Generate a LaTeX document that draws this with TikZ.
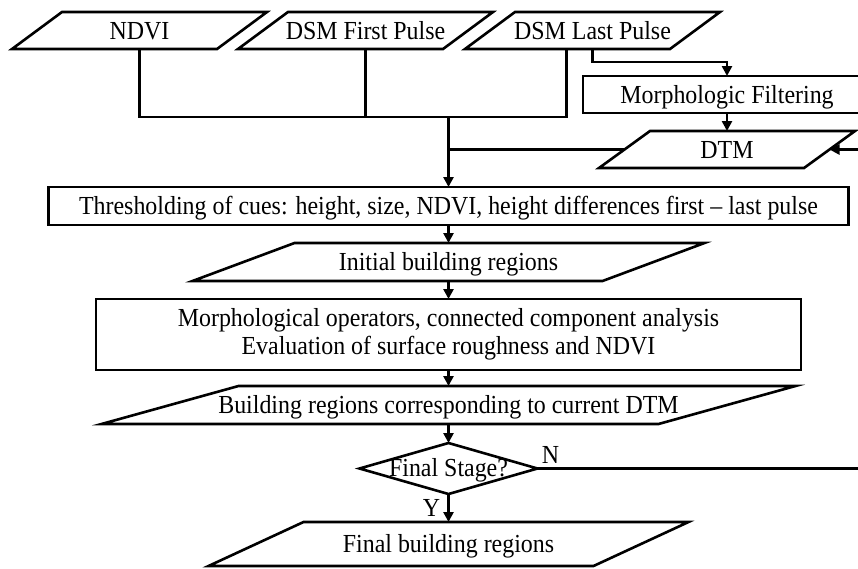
\documentclass[tikz,border=0pt]{standalone}
\usepackage{fontspec}
\setmainfont{Liberation Serif}[FakeStretch=0.92]
\usetikzlibrary{shapes.geometric,arrows.meta,positioning}

\tikzset{
  flow/.style={draw, line width=2.6pt, inner sep=0pt, outer sep=0pt, font=\fontsize{26}{28}\selectfont},
  oneline/.style={text height=18pt, text depth=1pt},
  procbox/.style={flow, oneline, rectangle},
  % parallelogram: top edge shifted right by the slant #1
  databox/.style={flow, oneline, rectangle, draw=none,
    append after command={\pgfextra{\draw[line width=2.6pt]
      ([xshift=#1]\tikzlastnode.north west) -- (\tikzlastnode.north east)
      -- ([xshift=-#1]\tikzlastnode.south east) -- (\tikzlastnode.south west) -- cycle;}}},
  decision/.style={flow, diamond, aspect=3.5, text height=16pt, text depth=0pt},
  line/.style={line width=2.6pt},
  arrow/.style={line, -{Triangle[length=10pt,width=10pt]}},
  tag/.style={oneline, font=\fontsize{26}{28}\selectfont, inner sep=3pt}
}

\begin{document}
\begin{tikzpicture}[x=1pt, y=-1pt]
\useasboundingbox (0,0) rectangle (858,568);

% inputs
\node[databox=50pt, minimum width=255pt, minimum height=37pt] (ndvi) at (139.5,30.5) {NDVI};
\node[databox=50pt, minimum width=255pt, minimum height=37pt] (first) at (365.5,30.5) {DSM First Pulse};
\node[databox=50pt, minimum width=255pt, minimum height=37pt] (last) at (592.5,30.5) {DSM Last Pulse};

% DTM branch
\node[procbox, minimum width=288pt, minimum height=37pt] (filter) at (727,94.5) {Morphologic Filtering};
\node[databox=51pt, minimum width=256pt, minimum height=37pt, below=18pt of filter] (dtm) {DTM};

% main column
\node[procbox, minimum width=800pt, minimum height=38pt] (thresh) at (448.5,206) {Thresholding of cues: height, size, NDVI, height differences first -- last pulse};
\node[databox=102pt, minimum width=512pt, minimum height=38pt, below=18pt of thresh] (init) {Initial building regions};
\node[flow, align=center, minimum width=705pt, minimum height=71pt, below=18pt of init] (ops) {Morphological operators, connected component analysis\\Evaluation of surface roughness and NDVI};
\node[databox=137pt, minimum width=694pt, minimum height=38pt, below=16pt of ops] (corr) {Building regions corresponding to current DTM};
\node[decision, minimum width=178pt, minimum height=51pt, below=19pt of corr] (stage) {Final Stage?};
\node[databox=95pt, minimum width=480pt, minimum height=44pt, below=28pt of stage] (final) {Final building regions};

\coordinate (merge) at (448.5,117);
\coordinate (dtmin) at (858,149.5);

% connectors
\draw[line] (ndvi.south) |- (merge);
\draw[line] (first.south) |- (merge);
\draw[line] ([xshift=-26pt]last.south) |- (merge);
\draw[arrow] (merge) -- (thresh.north);
\draw[arrow] (last.south) -- ++(0,13) -| (filter.north);
\draw[arrow] (filter) -- (dtm);
\draw[line] ([xshift=25.5pt]dtm.west) -- (dtm.west -| merge);
\draw[arrow] (dtmin) -- ([xshift=-25.5pt]dtm.east);
\draw[arrow] (thresh) -- (init);
\draw[arrow] (init) -- (ops);
\draw[arrow] (ops) -- (corr);
\draw[arrow] (corr) -- (stage);
\draw[arrow] (stage) -- node[tag, left, xshift=-4pt] {Y} (final);
\draw[line] (stage.east) -- node[tag, above right, pos=0] {N} (stage.east -| dtmin);

\end{tikzpicture}
\end{document}
